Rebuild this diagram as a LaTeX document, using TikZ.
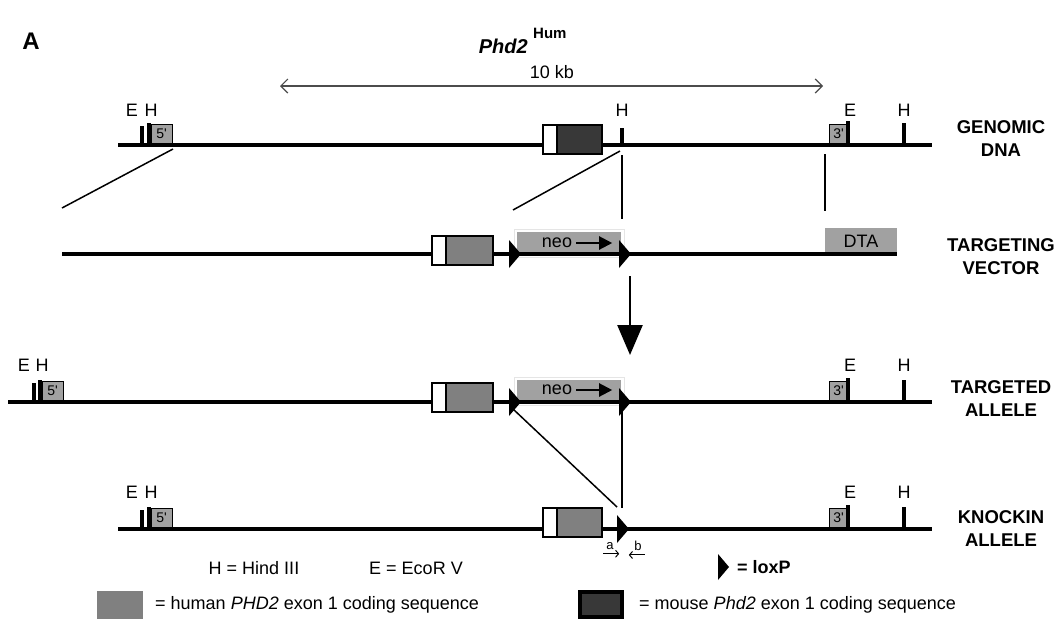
\documentclass[tikz,border=0pt]{standalone}
\usepackage{fontspec}
\setmainfont{Liberation Sans}
\usetikzlibrary{arrows.meta}
\definecolor{utrgray}{gray}{0.63}
\definecolor{humgray}{gray}{0.5}
\definecolor{mousegray}{gray}{0.22}
\tikzset{
  dna/.style={line width=3.2pt},
  cutsite/.style={line width=3.2pt},
  guide/.style={line width=1.5pt},
  sitelbl/.style={font=\fontsize{18}{18}\selectfont, inner sep=0pt},
  txt/.style={font=\fontsize{18}{20}\selectfont, inner sep=0pt},
  rowname/.style={font=\fontsize{18.5}{23}\selectfont\bfseries, align=center, inner sep=0pt},
  utrbox/.style={fill=utrgray, inner sep=0pt, font=\fontsize{14}{14}\selectfont},
  exonline/.style={draw=black, line width=2.8pt},
  loxp/.style={fill=black},
}
\begin{document}
\begin{tikzpicture}[x=1pt,y=-1pt]
\useasboundingbox (0,0) rectangle (1060,619);

% heading
\node[font=\fontsize{24}{24}\selectfont\bfseries, inner sep=0pt] (panel) at (31,41) {A};
\node[font=\fontsize{20}{20}\selectfont\bfseries\itshape, anchor=east, inner sep=0pt] (gene) at (528,46) {Phd2};
\node[font=\fontsize{15}{15}\selectfont\bfseries, anchor=west, inner sep=0pt] (hum) at (533,33) {Hum};

% scale bar
\coordinate (kbleft) at (280,86);
\coordinate (kbright) at (823,86);
\draw[gray!60!black, line width=1.2pt, {Straight Barb[length=7pt,width=14pt]}-{Straight Barb[length=7pt,width=14pt]}] (kbleft) -- (kbright);
\node[txt] (kb) at (552,72) {10 kb};

% genomic DNA
\draw[dna] (118,145) -- (932,145);
\draw[cutsite] (142,145) -- (142,126);
\draw[cutsite] (149,145) -- (149,123);
\node[sitelbl] (g-e1) at (132,110) {E};
\node[sitelbl] (g-h1) at (151,110) {H};
\draw[utrbox] (151,124) rectangle (172,143);
\node[utrbox] (g-5) at (161.5,133.5) {5\textquotesingle};
\fill[white] (543,125) rectangle (557,154);
\fill[mousegray] (557,125) rectangle (602,154);
\draw[exonline] (543,125) rectangle (602,154);
\draw[exonline] (557,125) -- (557,154);
\draw[cutsite] (622,145) -- (622,128);
\node[sitelbl] (g-h2) at (622,110) {H};
\draw[utrbox] (829,124) rectangle (848,143);
\node[utrbox] (g-3) at (838.5,133.5) {3\textquotesingle};
\draw[cutsite] (848,145) -- (848,121);
\node[sitelbl] (g-e2) at (850,110) {E};
\draw[cutsite] (904,145) -- (904,123);
\node[sitelbl] (g-h3) at (904,110) {H};
\node[rowname] (genomic) at (1001,139) {GENOMIC\\DNA};

% homology arms
\coordinate (arm1a) at (173,149);
\coordinate (arm1b) at (62,208);
\coordinate (arm2a) at (620,151);
\coordinate (arm2b) at (513,210);
\coordinate (arm3a) at (622,155);
\coordinate (arm3b) at (622,219);
\coordinate (arm4a) at (825,154);
\coordinate (arm4b) at (825,211);
\draw[guide] (arm1a) -- (arm1b);
\draw[guide] (arm2a) -- (arm2b);
\draw[guide] (arm3a) -- (arm3b);
\draw[guide] (arm4a) -- (arm4b);

% targeting vector
\draw[dna] (62,254) -- (897,254);
\fill[white] (432,236) rectangle (446,265);
\fill[humgray] (446,236) rectangle (493,265);
\draw[exonline] (432,236) rectangle (493,265);
\draw[exonline] (446,236) -- (446,265);
\draw[draw=gray!20, line width=0.6pt] (514,229) rectangle (624,257);
\fill[utrgray] (517,232) rectangle (621,254);
\node[txt] (v-neo) at (557,243) {neo};
\draw[line width=2.2pt, -{Triangle[length=13pt,width=13pt]}] (v-neo.east) ++(4,0) -- ++(36,0);
\draw[dna] (517,254) -- (621,254);
\fill[loxp] (509,240) -- (521,254) -- (509,268) -- cycle;
\fill[loxp] (619,240) -- (631,254) -- (619,268) -- cycle;
\fill[utrgray] (825,228) rectangle (897,252);
\draw[dna] (825,254) -- (897,254);
\node[txt] (v-dta) at (861,241) {DTA};
\node[rowname] (vector) at (1001,257) {TARGETING\\VECTOR};

% recombination
\coordinate (recomb-top) at (630,276);
\coordinate (recomb-bot) at (630,355);
\draw[line width=2.5pt, -{Triangle[length=30pt,width=25pt]}] (recomb-top) -- (recomb-bot);

% targeted allele
\draw[dna] (8,402) -- (932,402);
\draw[cutsite] (34,402) -- (34,383);
\draw[cutsite] (40,402) -- (40,380);
\node[sitelbl] (t-e1) at (24,365) {E};
\node[sitelbl] (t-h1) at (42,365) {H};
\draw[utrbox] (42,381) rectangle (63,400);
\node[utrbox] (t-5) at (52.5,390.5) {5\textquotesingle};
\fill[white] (432,383) rectangle (446,412);
\fill[humgray] (446,383) rectangle (493,412);
\draw[exonline] (432,383) rectangle (493,412);
\draw[exonline] (446,383) -- (446,412);
\draw[draw=gray!20, line width=0.6pt] (514,377) rectangle (624,405);
\fill[utrgray] (517,380) rectangle (621,402);
\node[txt] (t-neo) at (557,390) {neo};
\draw[line width=2.2pt, -{Triangle[length=13pt,width=13pt]}] (t-neo.east) ++(4,0) -- ++(36,0);
\draw[dna] (517,402) -- (621,402);
\fill[loxp] (509,388) -- (521,402) -- (509,416) -- cycle;
\fill[loxp] (619,388) -- (631,402) -- (619,416) -- cycle;
\draw[utrbox] (829,381) rectangle (848,400);
\node[utrbox] (t-3) at (838.5,390.5) {3\textquotesingle};
\draw[cutsite] (848,402) -- (848,378);
\node[sitelbl] (t-e2) at (850,365) {E};
\draw[cutsite] (904,402) -- (904,380);
\node[sitelbl] (t-h2) at (904,365) {H};
\node[rowname] (targeted) at (1001,399) {TARGETED\\ALLELE};

% cre excision
\coordinate (cre1a) at (513,409);
\coordinate (cre1b) at (617,507);
\coordinate (cre2a) at (622,410);
\coordinate (cre2b) at (622,508);
\draw[guide] (cre1a) -- (cre1b);
\draw[guide] (cre2a) -- (cre2b);

% knockin allele
\draw[dna] (118,529) -- (932,529);
\draw[cutsite] (142,529) -- (142,510);
\draw[cutsite] (149,529) -- (149,507);
\node[sitelbl] (k-e1) at (132,492) {E};
\node[sitelbl] (k-h1) at (151,492) {H};
\draw[utrbox] (151,508) rectangle (172,527);
\node[utrbox] (k-5) at (161.5,517.5) {5\textquotesingle};
\fill[white] (543,508) rectangle (557,537);
\fill[humgray] (557,508) rectangle (602,537);
\draw[exonline] (543,508) rectangle (602,537);
\draw[exonline] (557,508) -- (557,537);
\fill[loxp] (617,515) -- (629,529) -- (617,543) -- cycle;
\draw[utrbox] (829,508) rectangle (848,527);
\node[utrbox] (k-3) at (838.5,517.5) {3\textquotesingle};
\draw[cutsite] (848,529) -- (848,505);
\node[sitelbl] (k-e2) at (850,492) {E};
\draw[cutsite] (904,529) -- (904,507);
\node[sitelbl] (k-h2) at (904,492) {H};
\node[rowname] (knockin) at (1001,529) {KNOCKIN\\ALLELE};

% primers
\node[font=\fontsize{13}{13}\selectfont, inner sep=0pt] (pa) at (610,546) {a};
\node[font=\fontsize{13}{13}\selectfont, inner sep=0pt] (pb) at (638,546) {b};
\draw[line width=1pt, -{Straight Barb[length=3pt,width=7pt]}] (pa.south west) ++(-3,4) -- ++(16,0);
\draw[line width=1pt, -{Straight Barb[length=3pt,width=7pt]}] (pb.south east) ++(3,4) -- ++(-16,0);

% legend
\node[txt] (leg-h) at (254,568) {H = Hind III};
\node[txt] (leg-e) at (416,568) {E = EcoR V};
\fill[loxp] (718,554) -- (729,567) -- (718,580) -- cycle;
\node[txt, font=\fontsize{18}{20}\selectfont\bfseries, anchor=west] (leg-loxp) at (737,567) {= loxP};
\fill[humgray] (97,591) rectangle (143,619);
\node[txt, anchor=west] (leg-hum) at (155,605) {= human \textit{PHD2} exon 1 coding sequence};
\draw[fill=mousegray, line width=3.2pt] (580,592) rectangle (622,617);
\node[txt, anchor=west] (leg-mouse) at (639,605) {= mouse \textit{Phd2} exon 1 coding sequence};
\end{tikzpicture}
\end{document}
